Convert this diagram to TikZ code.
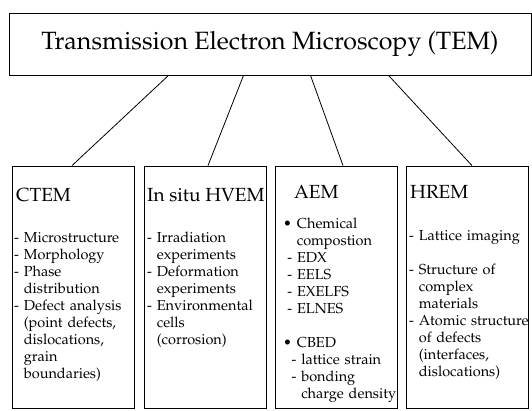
\documentclass[tikz,border=0pt]{standalone}
\usepackage[T1]{fontenc}
\usepackage{mathpazo}
\newcommand{\dind}{\phantom{- }}
\newcommand{\sind}{\phantom{i}}
\begin{document}
\begin{tikzpicture}[x=1pt,y=-1pt,
    topbox/.style={draw,line width=0.8pt,minimum width=522pt,minimum height=62pt,inner sep=0pt,
      font=\fontsize{25}{30}\selectfont},
    colbox/.style={draw,line width=0.8pt,minimum width=122pt,minimum height=242pt,inner sep=0pt},
    head/.style={anchor=base west,inner sep=0pt,font=\fontsize{19}{22}\selectfont},
    items/.style={anchor=base west,inner sep=0pt,align=left,text width=140pt,
      font=\fontsize{14.5}{17}\selectfont},
    link/.style={line width=0.8pt}]
  \useasboundingbox (0,0) rectangle (532,410);
  \node[topbox] (tem) at (270,44) {Transmission Electron Microscopy (TEM)};
  \node[colbox] (ctem) at (73.5,287) {};
  \node[colbox] (hvem) at (205,287) {};
  \node[colbox] (aem) at (336,287) {};
  \node[colbox] (hrem) at (467,287) {};
  \draw[link] ([xshift=-101.5pt]tem.south) -- ([xshift=-1.5pt]ctem.north);
  \draw[link] ([xshift=-26.5pt]tem.south) -- ([xshift=3pt]hvem.north);
  \draw[link] ([xshift=40.5pt]tem.south) -- ([xshift=7pt]aem.north);
  \draw[link] ([xshift=118.5pt]tem.south) -- ([xshift=5pt]hrem.north);
  % headings
  \node[head] (ctemhead) at (16,201) {CTEM};
  \node[head] (hvemhead) at (147,201) {In situ HVEM};
  \node[head] (aemhead) at (294,198) {AEM};
  \node[head] (hremhead) at (410,198) {HREM};
  % contents
  \node[items] (ctemlist) at (14,242) {- Microstructure\\- Morphology\\- Phase\\\dind distribution\\
    - Defect analysis\\\dind (point defects,\\\dind dislocations,\\\dind grain\\\dind boundaries)};
  \node[items] (hvemlist) at (147,242) {- Irradiation\\\dind experiments\\- Deformation\\
    \dind experiments\\- Environmental\\\dind cells\\\dind (corrosion)};
  \node[items] (aemlist) at (283,228) {\textbullet\ Chemical\\\phantom{\textbullet\ }compostion\\
    \sind- EDX\\\sind- EELS\\\sind- EXELFS\\\sind- ELNES\\[17pt]
    \textbullet\ CBED\\\sind\sind- lattice strain\\\sind\sind- bonding\\
    \sind\sind\dind charge density};
  \node[items] (hremlist) at (409,240) {- Lattice imaging\\[17pt]- Structure of\\\dind complex\\
    \dind materials\\- Atomic structure\\\dind of defects\\\dind (interfaces,\\\dind dislocations)};
\end{tikzpicture}
\end{document}
